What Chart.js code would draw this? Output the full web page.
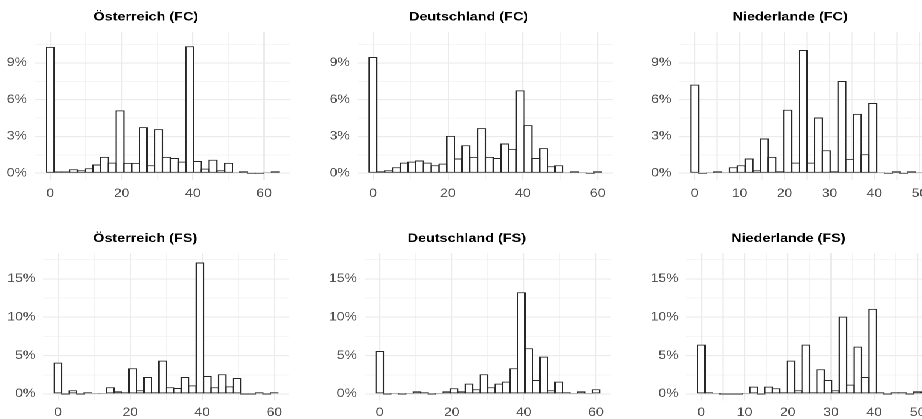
<!DOCTYPE html>
<html>
<head>
<meta charset="utf-8">
<script src="https://cdn.jsdelivr.net/npm/chart.js@4.4.1/dist/chart.umd.min.js"></script>
<style>
html, body { margin: 0; padding: 0; background: #fff; overflow: hidden; width: 922px; height: 419px; }
#fig { position: absolute; left: 0; top: 0; width: 820px; height: 419px; transform: scaleX(1.2); transform-origin: 0 0; }
#fig canvas { position: absolute; }
</style>
</head>
<body>
<div id="fig"></div>
<script>
// histogram bin centres (30 bins per panel)
const bins63 = [0, 2.17, 4.34, 6.52, 8.69, 10.86, 13.03, 15.21, 17.38, 19.55, 21.72, 23.9, 26.07, 28.24, 30.41, 32.59, 34.76, 36.93, 39.1, 41.28, 43.45, 45.62, 47.79, 49.97, 52.14, 54.31, 56.48, 58.66, 60.83, 63];
const bins60 = [0, 2.07, 4.14, 6.21, 8.28, 10.34, 12.41, 14.48, 16.55, 18.62, 20.69, 22.76, 24.83, 26.9, 28.97, 31.03, 33.1, 35.17, 37.24, 39.31, 41.38, 43.45, 45.52, 47.59, 49.66, 51.72, 53.79, 55.86, 57.93, 60];
const bins50 = [0, 1.72, 3.45, 5.17, 6.9, 8.62, 10.34, 12.07, 13.79, 15.52, 17.24, 18.97, 20.69, 22.41, 24.14, 25.86, 27.59, 29.31, 31.03, 32.76, 34.48, 36.21, 37.93, 39.66, 41.38, 43.1, 44.83, 46.55, 48.28, 50];

// share of respondents per bin, in percent
const atFC = [10.31, 0.14, 0.14, 0.33, 0.25, 0.41, 0.71, 1.34, 0.87, 5.13, 0.85, 0.85, 3.76, 0.65, 3.6, 1.34, 1.25, 0.95, 10.36, 1.0, 0.38, 1.1, 0.25, 0.85, 0.08, 0.16, 0, 0, 0.08, 0.16];
const deFC = [9.49, 0.16, 0.25, 0.49, 0.87, 0.95, 1.04, 0.87, 0.65, 0.79, 3.05, 1.2, 2.29, 1.34, 3.68, 1.34, 1.25, 2.43, 1.99, 6.76, 3.93, 1.25, 2.05, 0.57, 0.65, 0.08, 0.16, 0.08, 0, 0.16];
const nlFC = [7.23, 0, 0.08, 0.16, 0.08, 0.49, 0.65, 1.2, 0.25, 2.84, 1.34, 0.16, 5.18, 0.87, 10.06, 0.87, 4.55, 1.88, 0.16, 7.53, 1.17, 4.85, 1.55, 5.73, 0.08, 0, 0.16, 0, 0.16, 0.08];
const atFS = [4.09, 0, 0.48, 0, 0.22, 0.09, 0.09, 0.87, 0.35, 0.22, 3.35, 0.48, 2.22, 0.22, 4.35, 0.87, 0.78, 2.22, 1.13, 17.13, 2.35, 0.87, 2.57, 1.0, 2.09, 0, 0, 0.22, 0, 0.22];
const deFS = [5.6, 0, 0.13, 0, 0.13, 0.35, 0.22, 0, 0.13, 0.35, 0.74, 0.35, 1.35, 0.61, 2.57, 0.87, 1.35, 1.61, 3.35, 13.26, 5.96, 1.83, 4.87, 0.48, 1.61, 0.22, 0.13, 0.35, 0.13, 0.61];
const nlFS = [6.43, 0.22, 0.09, 0, 0, 0, 0.09, 0.96, 0, 0.96, 0.74, 0.22, 4.35, 0.48, 6.43, 0.22, 3.22, 1.83, 0.48, 10.09, 1.22, 6.17, 2.22, 11.09, 0.22, 0, 0.22, 0.22, 0, 0.35];

// axis ticks (major + minor grid)
const xTicksWide = [0, 10, 20, 30, 40, 50, 60];
const xTicksNarrow = [0, 5, 10, 15, 20, 25, 30, 35, 40, 45, 50];
const yTicksFC = [0, 1.5, 3, 4.5, 6, 7.5, 9, 10.5];
const yTicksFS = [0, 2.5, 5, 7.5, 10, 12.5, 15, 17.5];

const S = 1.2;         // whole figure is stretched horizontally
const sideEdge = 1.25; // outline width of the bar sides
const capEdge = 1;     // outline width of top and bottom

const rows = [
    { top: 0, h: 210, plotTop: 31.7, plotBottom: 180, plotW: 256.7, axisW: 28, yMin: -0.55, yMax: 11.55, yTicks: yTicksFC, yMajor: 3, titleCenter: 17.2, xPad: 7 },
    { top: 210, h: 209, plotTop: 43, plotBottom: 190.7, plotW: 246.7, axisW: 35, yMin: -0.875, yMax: 18.375, yTicks: yTicksFS, yMajor: 5, titleCenter: 28.8, xPad: 5 }
];

const panels = [
    { title: 'Österreich (FC)', bins: bins63, vals: atFC, xMin: -4.35, xMax: 67.35, xTicks: xTicksWide, xMajor: 20, row: 0, left: 35.1 },
    { title: 'Deutschland (FC)', bins: bins60, vals: deFC, xMin: -4.14, xMax: 64.14, xTicks: xTicksWide, xMajor: 20, row: 0, left: 357.3 },
    { title: 'Niederlande (FC)', bins: bins50, vals: nlFC, xMin: -3.45, xMax: 53.45, xTicks: xTicksNarrow, xMajor: 10, row: 0, left: 679.5 },
    { title: 'Österreich (FS)', bins: bins60, vals: atFS, xMin: -4.14, xMax: 64.14, xTicks: xTicksWide, xMajor: 20, row: 1, left: 43.3 },
    { title: 'Deutschland (FS)', bins: bins60, vals: deFS, xMin: -4.14, xMax: 64.14, xTicks: xTicksWide, xMajor: 20, row: 1, left: 364.8 },
    { title: 'Niederlande (FS)', bins: bins50, vals: nlFS, xMin: -3.45, xMax: 53.45, xTicks: xTicksNarrow, xMajor: 10, row: 1, left: 686.5 }
];

const tickFont = { family: '"Liberation Sans", Arial, sans-serif', size: 11.7 };
const titleSize = 12;

function makePanel(p) {
    const r = rows[p.row];
    const fig = document.getElementById('fig');
    const canvas = document.createElement('canvas');
    const plotW = r.plotW / S;
    // symmetric padding so the title is centred over the panel
    canvas.style.left = (p.left / S - r.axisW) + 'px';
    canvas.style.top = r.top + 'px';
    canvas.width = r.axisW * 2 + plotW;
    canvas.height = r.h;
    fig.appendChild(canvas);

    const padTop = r.titleCenter - titleSize * 0.6;
    const padBottom = r.plotTop - padTop - titleSize * 1.2;

    // widen bars by one outline so neighbouring outlines sit on top of each other
    const binPx = plotW * (p.bins[1] - p.bins[0]) / (p.xMax - p.xMin);

    new Chart(canvas, {
        type: 'bar',
        data: {
            datasets: [{
                data: p.bins.map((x, i) => ({ x: x, y: p.vals[i] })),
                backgroundColor: '#ffffff',
                borderColor: '#262626',
                borderWidth: { top: capEdge, bottom: capEdge, left: sideEdge, right: sideEdge },
                borderSkipped: false,
                inflateAmount: 0,
                barPercentage: 1 + sideEdge / binPx,
                categoryPercentage: 1,
                minBarLength: 1
            }]
        },
        options: {
            responsive: false,
            devicePixelRatio: 2,
            animation: false,
            layout: { padding: { left: 0, right: r.axisW, top: 0, bottom: 0 } },
            plugins: {
                legend: { display: false },
                tooltip: { enabled: false },
                title: {
                    display: true,
                    text: p.title,
                    color: '#000',
                    font: { family: '"Liberation Sans", Arial, sans-serif', size: titleSize, weight: 'bold', lineHeight: 1.2 },
                    padding: { top: padTop, bottom: padBottom }
                }
            },
            scales: {
                x: {
                    type: 'linear',
                    offset: false,
                    min: p.xMin,
                    max: p.xMax,
                    afterBuildTicks: ax => { ax.ticks = p.xTicks.map(v => ({ value: v })); },
                    afterFit: ax => { ax.height = r.h - r.plotBottom; },
                    border: { display: false },
                    grid: {
                        offset: false,
                        color: '#ebebeb',
                        drawTicks: false,
                        lineWidth: ctx => (ctx.tick && ctx.tick.value % p.xMajor === 0) ? 1.1 : 0.6
                    },
                    ticks: {
                        autoSkip: false,
                        maxRotation: 0,
                        padding: r.xPad,
                        color: '#4d4d4d',
                        font: tickFont,
                        callback: v => (v % p.xMajor === 0 ? String(v) : '')
                    }
                },
                y: {
                    min: r.yMin,
                    max: r.yMax,
                    afterBuildTicks: ax => { ax.ticks = r.yTicks.map(v => ({ value: v })); },
                    afterFit: ax => { ax.width = r.axisW; },
                    border: { display: false },
                    grid: {
                        color: '#ebebeb',
                        drawTicks: false,
                        lineWidth: ctx => (ctx.tick && ctx.tick.value % r.yMajor === 0) ? 1.1 : 0.6
                    },
                    ticks: {
                        padding: 6.5,
                        color: '#4d4d4d',
                        font: tickFont,
                        callback: v => (v % r.yMajor === 0 ? v + '%' : '')
                    }
                }
            }
        }
    });
}

panels.forEach(makePanel);
</script>
</body>
</html>
